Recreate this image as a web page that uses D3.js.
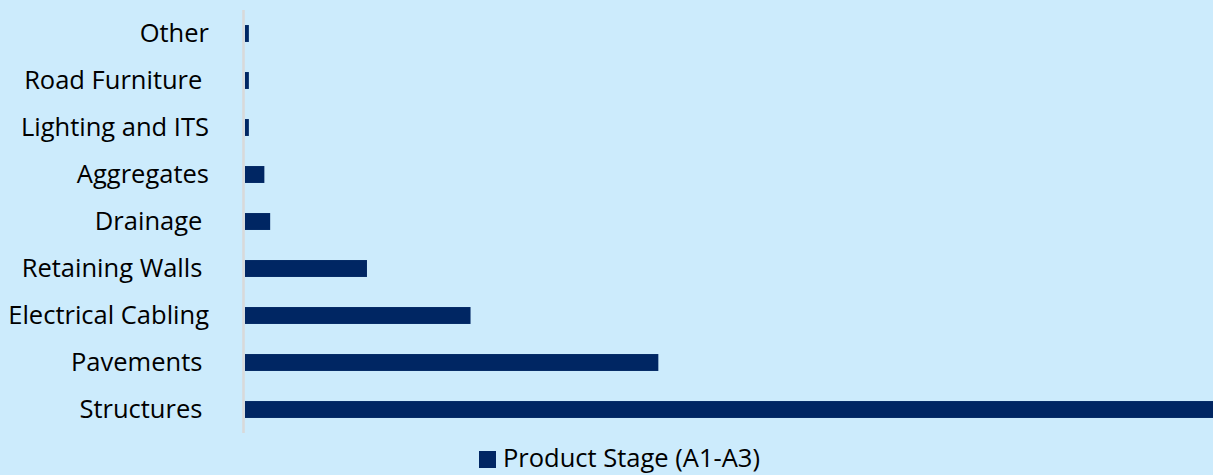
<!DOCTYPE html>
<html><head><meta charset="utf-8">
<script src="https://cdn.jsdelivr.net/npm/d3@7"></script>
<style>
html,body{margin:0;padding:0;background:#CCEBFC;}
svg{display:block;}
text{font-family:"Open Sans",sans-serif;fill:#000;}
</style></head><body>
<div id="chart"></div>
<script>
const categories = ["Other","Road Furniture ","Lighting and ITS","Aggregates","Drainage ","Retaining Walls ","Electrical Cabling","Pavements ","Structures "];
const values = [0.4, 0.4, 0.4, 2.0, 2.6, 12.6, 23.3, 42.7, 105];
const seriesName = "Product Stage (A1-A3)";
const xMax = 100;

const W = 1213, H = 475;
const svg = d3.select("#chart").append("svg").attr("width", W).attr("height", H);
svg.append("rect").attr("width", W).attr("height", H).attr("fill", "#CCEBFC");

const x = d3.scaleLinear().domain([0, xMax]).range([245, 1213]);
const y = d3.scaleBand().domain(categories).range([10, 433]).paddingInner(0.64).paddingOuter(0.32);

svg.append("g").selectAll("rect").data(categories).join("rect")
  .attr("x", x(0))
  .attr("y", d => y(d))
  .attr("width", (d,i) => x(values[i]) - x(0))
  .attr("height", y.bandwidth())
  .attr("fill", "#002663");

svg.append("line").attr("x1", 243.5).attr("x2", 243.5).attr("y1", 10).attr("y2", 433)
  .attr("stroke", "#D9D9D9").attr("stroke-width", 2.5);

const yAxis = d3.axisLeft(y).tickSize(0).tickPadding(0);
const ga = svg.append("g").attr("transform", "translate(209,0)").call(yAxis);
ga.select(".domain").remove();
ga.selectAll("text").style("font-family", "'Open Sans', sans-serif").style("font-size", "25.5px")
  .attr("fill", "#000").attr("xml:space", "preserve").style("white-space", "pre").attr("dy", "0.35em");

const lg = svg.append("g");
lg.append("rect").attr("x", 479).attr("y", 451).attr("width", 17).attr("height", 17).attr("fill", "#002663");
lg.append("text").attr("x", 503).attr("y", 467).style("font-size", "25.5px").text(seriesName);
</script>
</body></html>
